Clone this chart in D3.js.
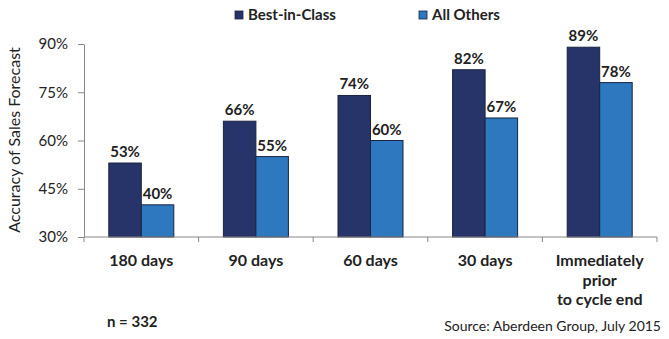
<!DOCTYPE html>
<html><head><meta charset="utf-8">
<script src="https://cdn.jsdelivr.net/npm/d3@7"></script>
<style>body{margin:0;background:#fff}svg{display:block}text{font-family:Lato,"Open Sans",sans-serif}</style>
</head><body><svg id="c" width="669" height="339"></svg>
<script>
const categories = ["180 days","90 days","60 days","30 days","Immediately|prior|to cycle end"];
const seriesNames = ["Best-in-Class","All Others"];
const bestInClass = [53,66,74,82,89];
const allOthers = [40,55,60,67,78];
const yTicks = [30,45,60,75,90];
const colors = ["#26346a","#2e78c0"];

const svg = d3.select("#c");
const m = {l:84, r:657, t:44, b:237};
const x = d3.scaleBand().domain(categories).range([m.l,m.r]);
const inner = d3.scaleBand().domain(seriesNames).range([0,65]);
const y = d3.scaleLinear().domain([30,90]).range([m.b,m.t]);
const data = categories.map((c,i)=>({c, vals:[bestInClass[i],allOthers[i]]}));

// y axis
const ya = svg.append("g").attr("transform",`translate(${m.l},0)`)
  .call(d3.axisLeft(y).tickValues(yTicks).tickFormat(d=>d+"%").tickSize(6).tickPadding(10).tickSizeOuter(0));
ya.select(".domain").attr("stroke","#888");
ya.selectAll(".tick line").attr("stroke","#888");
ya.selectAll("text").attr("font-size",15).attr("fill","#222").style("font-family","Lato, sans-serif");

// bars
const g = svg.append("g");
data.forEach(d=>{
  const x0 = x(d.c) + (x.bandwidth()-65)/2;
  d.vals.forEach((v,j)=>{
    g.append("rect").attr("x",x0+inner(seriesNames[j])).attr("y",y(v))
      .attr("width",inner.bandwidth()).attr("height",y(30)-y(v))
      .attr("fill",colors[j]).attr("stroke","#1a2340").attr("stroke-width",1);
    g.append("text").attr("x",x0+inner(seriesNames[j])+inner.bandwidth()/2).attr("y",y(v)-6)
      .attr("text-anchor","middle").attr("font-size",15).attr("font-weight","bold").attr("fill","#222")
      .text(v+"%");
  });
});

// x axis
svg.append("line").attr("x1",m.l).attr("x2",m.r).attr("y1",m.b).attr("y2",m.b).attr("stroke","#888");
const bounds = categories.map(c=>x(c)).concat([m.r]);
bounds.forEach(b=>svg.append("line").attr("x1",b).attr("x2",b).attr("y1",m.b).attr("y2",m.b+5).attr("stroke","#888"));
categories.forEach(c=>{
  const t = svg.append("text").attr("x",x(c)+x.bandwidth()/2).attr("y",266)
    .attr("text-anchor","middle").attr("font-size",16).attr("font-weight","bold").attr("fill","#222");
  c.split("|").forEach((s,i)=>t.append("tspan").attr("x",x(c)+x.bandwidth()/2).attr("dy",i?19.5:0).text(s));
});

// y title
svg.append("text").attr("transform","translate(20,140) rotate(-90)").attr("text-anchor","middle")
  .attr("font-size",16).attr("fill","#222").text("Accuracy of Sales Forecast");

// legend
const lx = [235,419];
seriesNames.forEach((s,i)=>{
  svg.append("rect").attr("x",lx[i]).attr("y",11).attr("width",8).attr("height",8)
    .attr("fill",colors[i]).attr("stroke","#1a2340").attr("stroke-width",0.8);
  svg.append("text").attr("x",lx[i]+13).attr("y",20).attr("font-size",15).attr("font-weight","bold").attr("fill","#222").text(s);
});

svg.append("text").attr("x",107).attr("y",327).attr("font-size",15).attr("font-weight","bold").attr("fill","#222").text("n = 332");
svg.append("text").attr("x",661).attr("y",331).attr("text-anchor","end").attr("font-size",14).attr("fill","#222").text("Source: Aberdeen Group, July 2015");
</script></body></html>
